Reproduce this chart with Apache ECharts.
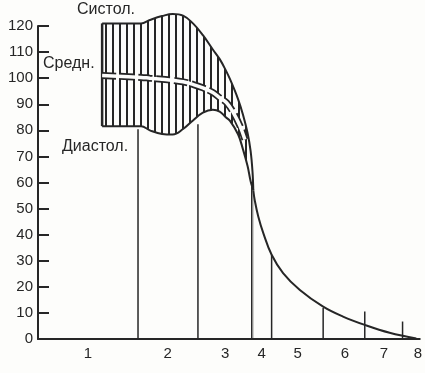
<!DOCTYPE html>
<html><head><meta charset="utf-8">
<script src="https://cdn.jsdelivr.net/npm/echarts@6/dist/echarts.min.js"></script>
<style>html,body{margin:0;padding:0;background:#fdfdfb}#c{width:425px;height:373px}</style>
</head><body><div id="c"></div>
<script>
// Position along the vascular tree (0..100 arbitrary units)
const bandX     = [16.8, 27, 29.3, 32.5, 35.3, 38, 40.6, 43.2, 45.8, 47.6, 49.2, 50.3, 52.4, 53.7, 54.9, 55.7, 56.2, 56.4];
const systolic  = [121, 121, 122.3, 123.8, 124.6, 124, 121, 116.5, 111, 107.3, 103, 99.6, 92, 86, 79, 72, 64, 57];
const diastolic = [81.6, 81.6, 80, 78.6, 78.4, 80.5, 83.8, 86.8, 87.9, 87.2, 85, 83.6, 78.5, 72.7, 66.3, 60.5, 58, 57];
const meanX     = [16.8, 27, 29.3, 32.5, 35.3, 38, 40.6, 43.2, 45.8, 47.6, 49.4, 51.1, 52.9, 54.2];
const meanP     = [101, 100.3, 100, 99.6, 99.2, 98.6, 97.6, 96.3, 94.5, 92.5, 90.6, 87, 81.7, 76.5];
const tailX     = [56.4, 56.8, 57.7, 59, 61.2, 64.2, 68.6, 74.7, 79.9, 85.6, 92.1, 99.1];
const tailP     = [57, 53, 47, 40.7, 32.3, 25.3, 18.8, 12.4, 8.6, 5.4, 2.4, 0.2];
const dividerX  = [26.2, 41.9, 56.0, 61.2, 74.7, 85.6, 95.5];
const dividerTop= [80.4, 82.3, 60, 32.3, 11.9, 10.5, 6.7];
const sectionX  = [13.1, 34, 49, 58.6, 68, 80.4, 90.6, 99.5];
const sectionLabels = ['1','2','3','4','5','6','7','8'];

const INK = '#262626';
const BG = '#fdfdfb';
const pc = document.createElement('canvas'); pc.width = 7; pc.height = 4;
const pctx = pc.getContext('2d'); pctx.fillStyle = INK; pctx.fillRect(0,0,2,4);

const zip = (a,b) => a.map((v,i)=>[v,b[i]]);
const chart = echarts.init(document.getElementById('c'), null, {renderer:'canvas'});
const font = '"Liberation Sans", Arial, sans-serif';
chart.setOption({
  animation:false,
  backgroundColor:BG,
  grid:{left:38, right:5, top:26, bottom:34},
  xAxis:{type:'value', min:0, max:100, z:20,
    axisLine:{lineStyle:{color:INK, width:2}},
    axisTick:{show:false}, splitLine:{show:false},
    axisLabel:{customValues:sectionX, formatter:(v)=>{const i=sectionX.indexOf(v); return i<0?'':sectionLabels[i];},
      color:INK, fontSize:15, fontFamily:font, margin:7}},
  yAxis:{type:'value', min:0, max:120, interval:10, z:20,
    axisLine:{show:true, lineStyle:{color:INK, width:2}},
    axisTick:{show:true, inside:true, length:11, lineStyle:{color:INK, width:2}},
    splitLine:{show:false},
    axisLabel:{color:INK, fontSize:15, fontFamily:font, margin:5, showMinLabel:true}},
  series:[
    {type:'line', data:zip(bandX, systolic), smooth:0.4, symbol:'none', clip:false,
      lineStyle:{color:INK, width:2}, areaStyle:{color:{image:pc, repeat:'repeat'}, opacity:1, origin:'start'}, z:2},
    {type:'line', data:zip(bandX, diastolic), smooth:0.4, symbol:'none', clip:false,
      lineStyle:{color:INK, width:2}, areaStyle:{color:BG, opacity:1, origin:'start'}, z:3},
    {type:'line', data:[[bandX[0], diastolic[0]],[bandX[0], systolic[0]]], symbol:'none', clip:false,
      lineStyle:{color:INK, width:2.5}, z:6},
    {type:'line', data:zip(meanX, meanP), smooth:0.4, symbol:'none', clip:false,
      lineStyle:{color:INK, width:7, type:[14,4]}, z:7},
    {type:'line', data:zip(meanX, meanP), smooth:0.4, symbol:'none', clip:false,
      lineStyle:{color:BG, width:3.5}, z:8},
    {type:'line', data:zip(tailX, tailP), smooth:0.4, symbol:'none', clip:false,
      lineStyle:{color:INK, width:2}, z:5},
    {type:'custom', data:zip(dividerX, dividerTop), z:4, clip:false,
      renderItem:(params, api)=>{
        const p0 = api.coord([api.value(0), 0]);
        const p1 = api.coord([api.value(0), api.value(1)]);
        return {type:'line', shape:{x1:p0[0], y1:p0[1], x2:p1[0], y2:p1[1]}, style:{stroke:INK, lineWidth:1.5}};
      }}
  ],
  graphic:[
    {type:'text', z:100, left:77, top:2, style:{text:'Систол.', font:'16px '+font, fill:INK}},
    {type:'text', z:100, left:43, top:56, style:{text:'Средн.', font:'16px '+font, fill:INK}},
    {type:'text', z:100, left:62, top:139, style:{text:'Диастол.', font:'16px '+font, fill:INK}}
  ]
});
</script></body></html>
